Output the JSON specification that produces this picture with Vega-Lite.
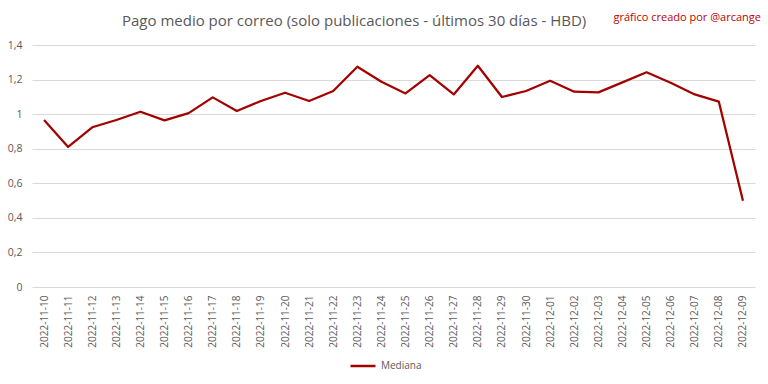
{
  "$schema": "https://vega.github.io/schema/vega-lite/v6.json",
  "autosize": "none",
  "width": 723,
  "height": 242,
  "padding": {"left": 32, "top": 45, "right": 13, "bottom": 97},
  "background": "white",
  "title": {
    "text": "Pago medio por correo (solo publicaciones - últimos 30 días - HBD)",
    "anchor": "start",
    "frame": "group",
    "dx": 90,
    "offset": -17,
    "font": "Open Sans",
    "fontSize": 15,
    "fontWeight": "normal",
    "color": "#595959"
  },
  "data": {
    "values": [
      {"fecha": "2022-11-10", "serie": "Mediana", "valor": 0.966},
      {"fecha": "2022-11-11", "serie": "Mediana", "valor": 0.81},
      {"fecha": "2022-11-12", "serie": "Mediana", "valor": 0.924},
      {"fecha": "2022-11-13", "serie": "Mediana", "valor": 0.966},
      {"fecha": "2022-11-14", "serie": "Mediana", "valor": 1.014},
      {"fecha": "2022-11-15", "serie": "Mediana", "valor": 0.964},
      {"fecha": "2022-11-16", "serie": "Mediana", "valor": 1.006},
      {"fecha": "2022-11-17", "serie": "Mediana", "valor": 1.097},
      {"fecha": "2022-11-18", "serie": "Mediana", "valor": 1.018},
      {"fecha": "2022-11-19", "serie": "Mediana", "valor": 1.076},
      {"fecha": "2022-11-20", "serie": "Mediana", "valor": 1.124},
      {"fecha": "2022-11-21", "serie": "Mediana", "valor": 1.076},
      {"fecha": "2022-11-22", "serie": "Mediana", "valor": 1.134},
      {"fecha": "2022-11-23", "serie": "Mediana", "valor": 1.274},
      {"fecha": "2022-11-24", "serie": "Mediana", "valor": 1.187},
      {"fecha": "2022-11-25", "serie": "Mediana", "valor": 1.12},
      {"fecha": "2022-11-26", "serie": "Mediana", "valor": 1.226},
      {"fecha": "2022-11-27", "serie": "Mediana", "valor": 1.114},
      {"fecha": "2022-11-28", "serie": "Mediana", "valor": 1.28},
      {"fecha": "2022-11-29", "serie": "Mediana", "valor": 1.099},
      {"fecha": "2022-11-30", "serie": "Mediana", "valor": 1.134},
      {"fecha": "2022-12-01", "serie": "Mediana", "valor": 1.193},
      {"fecha": "2022-12-02", "serie": "Mediana", "valor": 1.13},
      {"fecha": "2022-12-03", "serie": "Mediana", "valor": 1.126},
      {"fecha": "2022-12-04", "serie": "Mediana", "valor": 1.184},
      {"fecha": "2022-12-05", "serie": "Mediana", "valor": 1.242},
      {"fecha": "2022-12-06", "serie": "Mediana", "valor": 1.182},
      {"fecha": "2022-12-07", "serie": "Mediana", "valor": 1.114},
      {"fecha": "2022-12-08", "serie": "Mediana", "valor": 1.072},
      {"fecha": "2022-12-09", "serie": "Mediana", "valor": 0.499}
    ]
  },
  "layer": [
    {
      "mark": {"type": "line", "strokeWidth": 2.25, "strokeJoin": "round"},
      "encoding": {
        "x": {
          "field": "fecha",
          "type": "ordinal",
          "title": null,
          "scale": {"paddingOuter": 0.5, "paddingInner": 0}
        },
        "y": {
          "field": "valor",
          "type": "quantitative",
          "title": null,
          "scale": {"domain": [0, 1.4]}
        },
        "color": {
          "field": "serie",
          "type": "nominal",
          "scale": {"range": ["#A30000"]},
          "legend": {
            "title": null,
            "orient": "none",
            "legendX": 317,
            "legendY": 307,
            "direction": "horizontal",
            "symbolType": "stroke",
            "symbolSize": 625,
            "symbolStrokeWidth": 2.5,
            "labelFont": "Open Sans",
            "labelFontSize": 10,
            "labelColor": "#595959"
          }
        }
      }
    },
    {
      "data": {"values": [{"texto": "gráfico creado por @arcange"}]},
      "mark": {
        "type": "text",
        "align": "right",
        "baseline": "middle",
        "dx": 18,
        "font": "Open Sans",
        "fontSize": 11,
        "color": "#C00000"
      },
      "encoding": {
        "x": {"datum": "2022-12-09", "title": null},
        "y": {"datum": 1.556, "title": null},
        "text": {"field": "texto"}
      }
    }
  ],
  "config": {
    "view": {"stroke": null},
    "axisX": {
      "labelAngle": -90,
      "labelPadding": 8,
      "ticks": false,
      "domain": false,
      "grid": false,
      "labelFont": "Open Sans",
      "labelFontSize": 10,
      "labelColor": "#595959"
    },
    "axisY": {
      "tickCount": 8,
      "labelExpr": "replace(format(datum.value, '~g'), '.', ',')",
      "labelOverlap": false,
      "ticks": false,
      "domain": false,
      "gridColor": "#D9D9D9",
      "gridWidth": 1,
      "labelPadding": 10,
      "labelFont": "Open Sans",
      "labelFontSize": 10.5,
      "labelColor": "#595959"
    }
  }
}
